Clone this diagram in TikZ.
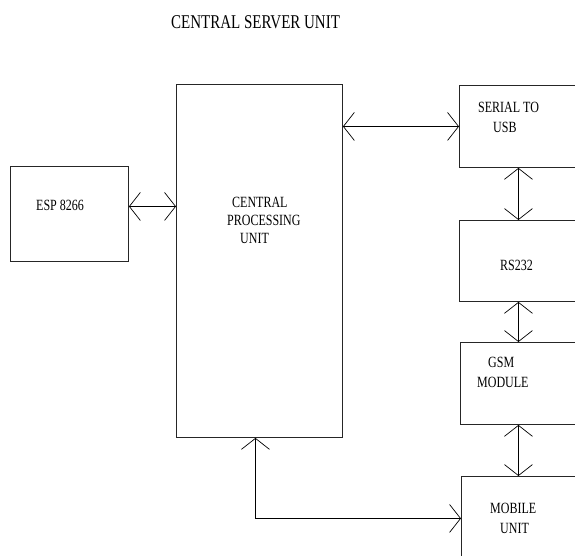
\documentclass[tikz,border=0pt]{standalone}
\usepackage{fontspec}
\setmainfont{Liberation Serif}
\usetikzlibrary{arrows.meta}
\newcommand{\vs}[1]{\scalebox{1}[1.3]{#1}}
\begin{document}
\begin{tikzpicture}[x=1pt,y=-1pt,
  blk/.style={draw=black!85,line width=0.9pt,minimum width=#1,inner sep=0pt,anchor=north west},
  lbl/.style={anchor=north west,inner sep=0pt,align=left,font=\fontsize{12}{20}\selectfont},
  arr/.style={draw=black,line width=0.7pt,{Straight Barb[length=11pt,width=28pt]}-{Straight Barb[length=11pt,width=28pt]}}]
\useasboundingbox (0,0) rectangle (575,556);
\clip (0,0) rectangle (575,556);
\fill[white] (0,0) rectangle (575,556);
% boxes
\node[blk=118pt,minimum height=95pt] (esp) at (10,166) {};
\node[blk=166pt,minimum height=353pt] (cpu) at (176,84) {};
\node[blk=131pt,minimum height=82pt] (usb) at (459,85) {};
\node[blk=131pt,minimum height=81pt] (rs) at (459,220) {};
\node[blk=130pt,minimum height=82pt] (gsm) at (460,342) {};
\node[blk=129pt,minimum height=84pt] (mob) at (461,476) {};
% labels
\node[anchor=north west,inner sep=0pt,font=\fontsize{15}{18}\selectfont] (title) at (171,15) {\vs{CENTRAL SERVER UNIT}};
\node[lbl] (tesp) at (36,200) {\vs{ESP 8266}};
\node[lbl,font=\fontsize{12}{18}\selectfont] (tcpu) at (227,197) {\hspace{5pt}\vs{CENTRAL}\\\vs{PROCESSING}\\\hspace{13pt}\vs{UNIT}};
\node[lbl] (tusb) at (478,102) {\vs{SERIAL TO}\\\hspace{15pt}\vs{USB}};
\node[lbl] (trs) at (500,260) {\vs{RS232}};
\node[lbl] (tgsm) at (477,357) {\hspace{11pt}\vs{GSM}\\\vs{MODULE}};
\node[lbl] (tmob) at (490,503) {\vs{MOBILE}\\\hspace{10pt}\vs{UNIT}};
% connectors
\draw[arr] ([yshift=7.5pt]esp.east) -- ([yshift=7.5pt]esp.east -| cpu.west);
\draw[arr] (usb.west -| cpu.east) -- (usb.west);
\draw[arr] ([xshift=-6.5pt]usb.south) -- ([xshift=-6.5pt]usb.south |- rs.north);
\draw[arr] ([xshift=-6.5pt]rs.south) -- ([xshift=-6.5pt]rs.south |- gsm.north);
\draw[arr] ([xshift=-7pt]gsm.south) -- ([xshift=-7pt]gsm.south |- mob.north);
\draw[arr] ([xshift=-4pt]cpu.south) |- (mob.west);
\end{tikzpicture}
\end{document}
